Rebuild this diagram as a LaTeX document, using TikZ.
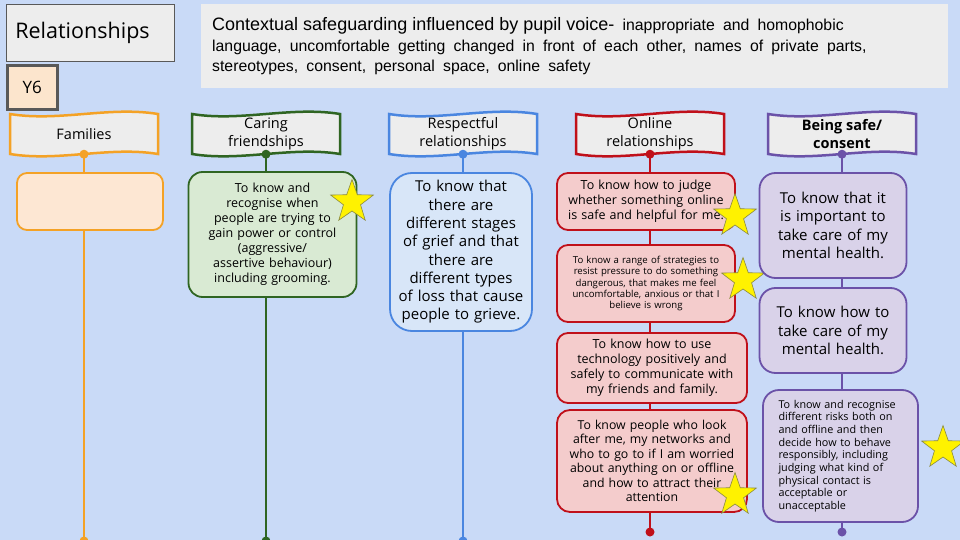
\documentclass[tikz,border=0pt]{standalone}
\usepackage{fontspec}
\setmainfont{Open Sans}
\newfontfamily\arialfont{Liberation Sans}
\usepackage{tikz}
\usetikzlibrary{shapes.geometric}
\definecolor{bgcol}{HTML}{C9DAF7}
\definecolor{greyfill}{HTML}{EDEDED}
\definecolor{greyline}{HTML}{595959}
\definecolor{yearfill}{HTML}{FCE5CD}
\definecolor{famcol}{HTML}{F4A226}
\definecolor{famfill}{HTML}{FDE7D3}
\definecolor{carcol}{HTML}{2F6522}
\definecolor{carfill}{HTML}{D9EAD3}
\definecolor{rescol}{HTML}{4A86E0}
\definecolor{resfill}{HTML}{D8E6F8}
\definecolor{onlcol}{HTML}{C0101A}
\definecolor{onlfill}{HTML}{F4CCCC}
\definecolor{safcol}{HTML}{6B52A8}
\definecolor{saffill}{HTML}{D9D2E9}
\definecolor{starline}{HTML}{8A8A40}
\tikzset{
wave/.style={line width=2.5pt, fill=greyfill}, % wavy flag behind each heading
bannertext/.style={minimum width=148pt, minimum height=40pt, align=center, font=\fontsize{14.5}{18}\selectfont}, % heading text
stem/.style={line width=2.8pt}, % the long vertical line of a column
topic/.style={draw=#1col, fill=#1fill, line width=1.8pt, align=center, inner sep=0pt}, % a learning box, #1 = column
goldstar/.style={star, star points=5, star point ratio=2.5, fill=yellow, draw=starline, line width=0.6pt, minimum size=45pt, inner sep=0pt}, % the yellow stars
}

\begin{document}
\begin{tikzpicture}[x=1pt, y=-1pt]
    \fill[bgcol] (0,0) rectangle (960,540);
    \useasboundingbox (0,0) rectangle (960,540);

    % title, year and the pupil voice note
    \node[draw=greyline, line width=0.8pt, fill=greyfill, anchor=north west, text width=150pt, minimum height=57pt, inner xsep=9pt, align=left, font=\fontsize{21.5}{24}\selectfont] (title) at (6,4) {Relationships};
    \node[draw=greyline, line width=2.5pt, fill=yearfill, anchor=north west, minimum width=50pt, minimum height=44pt, font=\fontsize{17}{20}\selectfont] (year) at (6,64.5) {Y6};
    \node[fill=greyfill, anchor=north west, text width=725pt, minimum height=84pt, inner xsep=11pt, align=left, font=\arialfont\fontsize{15.8}{20.5}\selectfont] (voice) at (201,4)
      {\spaceskip=8.2pt plus 1pt{\fontsize{18}{20.5}\selectfont\spaceskip=5pt Contextual safeguarding influenced by pupil voice-} inappropriate and homophobic\\
       language, uncomfortable getting changed in front of each other, names of private parts,\\
       stereotypes, consent, personal space, online safety};

    % headings and column lines
    \foreach \cx/\ey/\col/\nm/\txt in {84/541/famcol/fam/Families,
                                       266/541/carcol/car/{Caring\\friendships},
                                       463/541/rescol/res/{Respectful\\relationships},
                                       650/532/onlcol/onl/{Online\\relationships},
                                       842/532/safcol/saf/{\textbf{Being safe/}\\\textbf{consent}}}
    {
      \draw[wave, draw=\col] (\cx-74,114) .. controls +(49,8) and +(-49,-8) .. (\cx+74,114)
        -- (\cx+74,154) .. controls +(-49,-8) and +(49,8) .. (\cx-74,154) -- cycle;
      \node[bannertext] (\nm) at (\cx,134) {\txt};
      \coordinate (\nm end) at (\cx,\ey);
      \draw[stem, \col] (\nm.south) -- (\nm end);
      \fill[\col] (\nm.south) circle (4.5pt) (\nm end) circle (4.5pt);
    }

    % Families
    \node[topic=fam, rounded corners=10pt, minimum width=146pt, minimum height=57pt] (famA) at (90,201.5) {};

    % Caring friendships
    \node[topic=car, rounded corners=14pt, minimum width=168pt, minimum height=125pt, text width=160pt, font=\fontsize{12.5}{15}\selectfont] (carA) at (272.5,234.5)
      {To know and\\recognise when\\people are trying to\\gain power or control\\(aggressive/\\assertive behaviour)\\including grooming.};
    \node[goldstar] (starA) at (352,202) {};

    % Respectful relationships
    \node[topic=res, rounded corners=22pt, minimum width=142pt, minimum height=158pt, text width=138pt, font=\fontsize{15}{18.3}\selectfont] (resA) at (461,252)
      {To know that\\there are\\different stages\\of grief and that\\there are\\different types\\of loss that cause\\people to grieve.};

    % Online relationships
    \node[topic=onl, rounded corners=11pt, minimum width=178pt, minimum height=57pt, text width=174pt, font=\fontsize{12.5}{15}\selectfont] (onlA) at (646,201.5)
      {To know how to judge\\whether something online\\is safe and helpful for me.};
    \node[topic=onl, rounded corners=11pt, minimum width=178pt, minimum height=77pt, text width=174pt, font=\fontsize{9.6}{11.3}\selectfont] (onlB) at (646,283.5)
      {To know a range of strategies to\\resist pressure to do something\\dangerous, that makes me feel\\uncomfortable, anxious or that I\\believe is wrong};
    \node[topic=onl, rounded corners=11pt, minimum width=190pt, minimum height=70pt, text width=186pt, font=\fontsize{12.5}{15}\selectfont] (onlC) at (652,368)
      {To know how to use\\technology positively and\\safely to communicate with\\my friends and family.};
    \node[topic=onl, rounded corners=13pt, minimum width=190pt, minimum height=102pt, text width=186pt, font=\fontsize{12.3}{14.5}\selectfont] (onlD) at (652,461)
      {To know people who look\\after me, my networks and\\who to go to if I am worried\\about anything on or offline\\and how to attract their\\attention};
    \node[goldstar] (starB) at (735,216) {};
    \node[goldstar] (starC) at (743,280) {};
    \node[goldstar] (starD) at (735,495) {};

    % Being safe / consent
    \node[topic=saf, rounded corners=16pt, minimum width=147pt, minimum height=105pt, text width=143pt, font=\fontsize{15}{18.3}\selectfont] (safA) at (833,225.5)
      {To know that it\\is important to\\take care of my\\mental health.};
    \node[topic=saf, rounded corners=16pt, minimum width=147pt, minimum height=85pt, text width=143pt, font=\fontsize{15}{18.3}\selectfont] (safB) at (833,330.5)
      {To know how to\\take care of my\\mental health.};
    \node[topic=saf, rounded corners=16pt, minimum width=155pt, minimum height=132pt, text width=124pt, align=left, font=\fontsize{10.8}{12.7}\selectfont] (safC) at (840.5,456)
      {To know and recognise\\different risks both on\\and offline and then\\decide how to behave\\responsibly, including\\judging what kind of\\physical contact is\\acceptable or\\unacceptable};
    \node[goldstar] (starE) at (943,448) {};
\end{tikzpicture}
\end{document}
